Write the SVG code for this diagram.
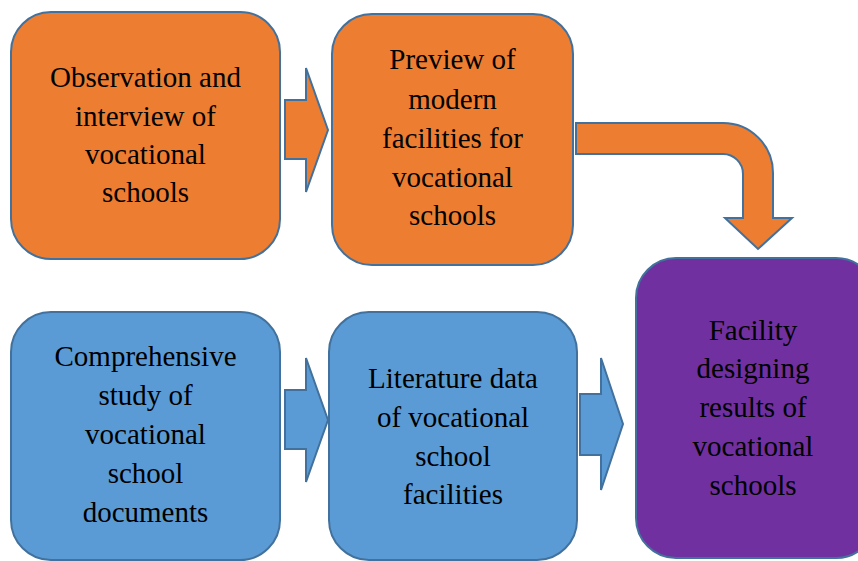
<svg xmlns="http://www.w3.org/2000/svg" width="858" height="561" viewBox="0 0 858 561">
<style>
.box{stroke:#41719C;stroke-width:2}
.or{fill:#ED7D31}
.bl{fill:#5B9BD5}
.pu{fill:#7030A0}
.ar{stroke:#41719C;stroke-width:2;stroke-linejoin:miter}
text{font-family:"Liberation Serif","Times New Roman",serif;font-size:29px;fill:#000;text-anchor:middle}
</style>
<rect width="858" height="561" fill="#fff"/>
<g id="connectors">
<path class="ar or" d="M285,100 H306 V68 L328,130 L306,192 V159 H285 Z"/>
<path class="ar bl" d="M285,390 H306 V358 L328,420 L306,482 V449 H285 Z"/>
<path class="ar bl" d="M580,394 H601 V358 L623,424 L601,490 V455 H580 Z"/>
<path class="ar or" d="M576,123 H723 A50,50 0 0 1 773,173 V218 H792 L758,249 L725,218 H743 V174 A20,20 0 0 0 723,154 H576 Z"/>
</g>
<g id="n1">
<rect class="box or" x="11" y="12" width="269" height="247" rx="40"/>
<text x="145.5" y="87">Observation and</text>
<text x="145.5" y="125.5">interview of</text>
<text x="145.5" y="164">vocational</text>
<text x="145.5" y="202">schools</text>
</g>
<g id="n2">
<rect class="box or" x="332" y="14" width="241" height="251" rx="40"/>
<text x="452.5" y="69">Preview of</text>
<text x="452.5" y="109">modern</text>
<text x="452.5" y="148">facilities for</text>
<text x="452.5" y="187">vocational</text>
<text x="452.5" y="225">schools</text>
</g>
<g id="n3">
<rect class="box bl" x="11" y="312" width="269" height="248" rx="40"/>
<text x="145.5" y="366">Comprehensive</text>
<text x="145.5" y="405">study of</text>
<text x="145.5" y="444">vocational</text>
<text x="145.5" y="483">school</text>
<text x="145.5" y="522">documents</text>
</g>
<g id="n4">
<rect class="box bl" x="329" y="312" width="248" height="248" rx="40"/>
<text x="453" y="388">Literature data</text>
<text x="453" y="427">of vocational</text>
<text x="453" y="466">school</text>
<text x="453" y="504">facilities</text>
</g>
<g id="n5">
<rect class="box pu" x="636" y="258" width="240" height="300" rx="40"/>
<text x="753" y="340">Facility</text>
<text x="753" y="378">designing</text>
<text x="753" y="417">results of</text>
<text x="753" y="456">vocational</text>
<text x="753" y="495">schools</text>
</g>
</svg>
